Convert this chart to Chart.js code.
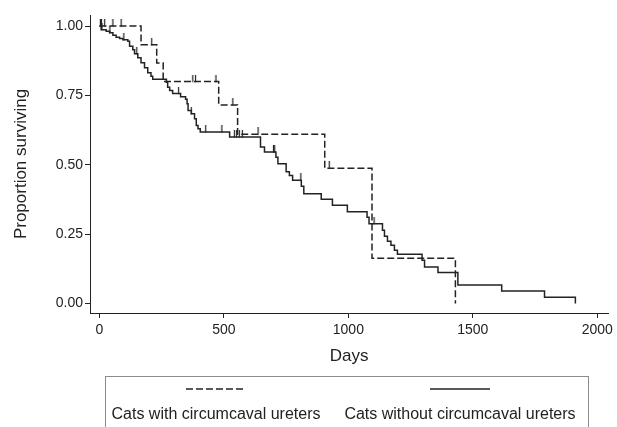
<!DOCTYPE html>
<html>
<head>
<meta charset="utf-8">
<script src="https://cdn.jsdelivr.net/npm/chart.js@4/dist/chart.umd.min.js"></script>
<style>html,body{margin:0;padding:0;background:#fff;}</style>
</head>
<body>
<canvas id="km" width="617" height="427"></canvas>
<script>
// Kaplan-Meier steps (days, proportion surviving after the drop)
const withDays = [0, 167, 230, 256, 479, 555, 905, 1095, 1430];
const withSurv = [1, 0.933, 0.867, 0.80, 0.716, 0.61, 0.488, 0.163, 0];
const withCensored = [4, 8, 21, 54, 87, 210, 375, 386, 468, 536, 637, 923];

const withoutDays = [0, 7, 27, 41, 54, 67, 81, 94, 114, 121, 134, 141, 154, 167, 181, 194, 207, 214,
  269, 274, 282, 294, 326, 346, 352, 356, 369, 382, 389, 396, 405, 523, 647, 663, 709, 717, 750,
  763, 776, 811, 821, 891, 936, 996, 1075, 1083, 1137, 1145, 1157, 1171, 1185, 1197, 1296, 1306,
  1360, 1440, 1616, 1788, 1912];
const withoutSurv = [1, 0.987, 0.981, 0.976, 0.967, 0.960, 0.955, 0.951, 0.945, 0.927, 0.915, 0.900,
  0.886, 0.868, 0.850, 0.832, 0.819, 0.808, 0.798, 0.780, 0.768, 0.757, 0.745, 0.736, 0.720, 0.696,
  0.684, 0.666, 0.642, 0.630, 0.618, 0.600, 0.564, 0.546, 0.527, 0.504, 0.475, 0.462, 0.444, 0.423,
  0.396, 0.376, 0.354, 0.331, 0.311, 0.288, 0.264, 0.243, 0.225, 0.210, 0.192, 0.178, 0.156, 0.132,
  0.112, 0.067, 0.045, 0.023, 0];
const withoutCensored = [6, 10, 42, 98, 150, 318, 369, 427, 492, 542, 551, 562, 574, 699, 704, 809, 1103];

const seriesLabels = ['Cats with circumcaval ureters', 'Cats without circumcaval ureters'];
const xTicks = [0, 500, 1000, 1500, 2000];
const yTicks = [0, 0.25, 0.5, 0.75, 1];

const ink = '#222222';
const font = "'Liberation Sans', Arial, Helvetica, sans-serif";

function levelAt(days, surv, t) {
  let s = surv[0];
  for (let i = 0; i < days.length; i++) if (days[i] <= t) s = surv[i];
  return s;
}
const steps = (days, surv) => days.map((d, i) => ({x: d, y: surv[i]}));
const marks = (times, days, surv) => times.map(t => ({x: t, y: levelAt(days, surv, t)}));

// censoring mark: short vertical stroke standing on the curve
function makeTick() {
  const c = document.createElement('canvas');
  c.width = 3; c.height = 14;
  const g = c.getContext('2d');
  g.strokeStyle = ink; g.lineWidth = 1.2;
  g.beginPath(); g.moveTo(1.5, 0); g.lineTo(1.5, 7.5); g.stroke();
  return c;
}
const tick = makeTick();

const boxLegend = {
  id: 'boxLegend',
  afterDraw(chart) {
    const ctx = chart.ctx;
    const ds = chart.data.datasets;
    ctx.save();
    ctx.strokeStyle = '#8c8c8c';
    ctx.lineWidth = 1;
    ctx.strokeRect(105.5, 376.5, 483, 80);
    [[ds[0], 216], [ds[1], 460]].forEach(([d, cx]) => {
      ctx.strokeStyle = d.borderColor;
      ctx.lineWidth = d.borderWidth;
      ctx.setLineDash(d.borderDash || []);
      ctx.beginPath();
      ctx.moveTo(cx - 30, 389);
      ctx.lineTo(cx + 30, 389);
      ctx.stroke();
      ctx.setLineDash([]);
      ctx.fillStyle = ink;
      ctx.font = '16px ' + font;
      ctx.textAlign = 'center';
      ctx.textBaseline = 'middle';
      ctx.fillText(d.label, cx, 415);
    });
    ctx.restore();
  }
};

new Chart(document.getElementById('km'), {
  type: 'line',
  data: {
    datasets: [
      {
        label: seriesLabels[0],
        data: steps(withDays, withSurv),
        stepped: true,
        borderColor: ink,
        borderWidth: 1.5,
        borderDash: [7, 3],
        pointRadius: 0,
      },
      {
        label: seriesLabels[1],
        data: steps(withoutDays, withoutSurv),
        stepped: true,
        borderColor: ink,
        borderWidth: 1.5,
        pointRadius: 0,
      },
      {
        type: 'scatter',
        label: 'censored with',
        data: marks(withCensored, withDays, withSurv),
        pointStyle: tick,
        pointRadius: 3,
      },
      {
        type: 'scatter',
        label: 'censored without',
        data: marks(withoutCensored, withoutDays, withoutSurv),
        pointStyle: tick,
        pointRadius: 3,
      },
    ],
  },
  options: {
    responsive: false,
    devicePixelRatio: 1,
    animation: false,
    layout: { padding: { left: 0, top: 15, right: 7, bottom: 59 } },
    plugins: { legend: { display: false }, tooltip: { enabled: false } },
    scales: {
      x: {
        type: 'linear',
        min: -38,
        max: 2044,
        afterBuildTicks: (s) => { s.ticks = xTicks.map(v => ({value: v})); },
        afterFit: (s) => { s.height = 55; },
        grid: { drawOnChartArea: false, tickLength: 5, color: ink },
        border: { color: ink, width: 1 },
        ticks: { color: ink, font: { family: font, size: 14 }, padding: 4, maxRotation: 0, callback: (v) => String(v) },
        title: { display: true, text: 'Days', color: ink, font: { family: font, size: 17 }, padding: { top: 0, bottom: 1 } },
      },
      y: {
        type: 'linear',
        min: -0.034,
        max: 1.04,
        afterBuildTicks: (s) => { s.ticks = yTicks.map(v => ({value: v})); },
        afterFit: (s) => { s.width = 90; },
        grid: { drawOnChartArea: false, tickLength: 5, color: ink },
        border: { color: ink, width: 1 },
        ticks: { color: ink, font: { family: font, size: 14 }, padding: 2, callback: (v) => v.toFixed(2) },
        title: { display: true, text: 'Proportion surviving', color: ink, font: { family: font, size: 17 }, padding: { top: 11, bottom: 0 } },
      },
    },
  },
  plugins: [boxLegend],
});
</script>
</body>
</html>
